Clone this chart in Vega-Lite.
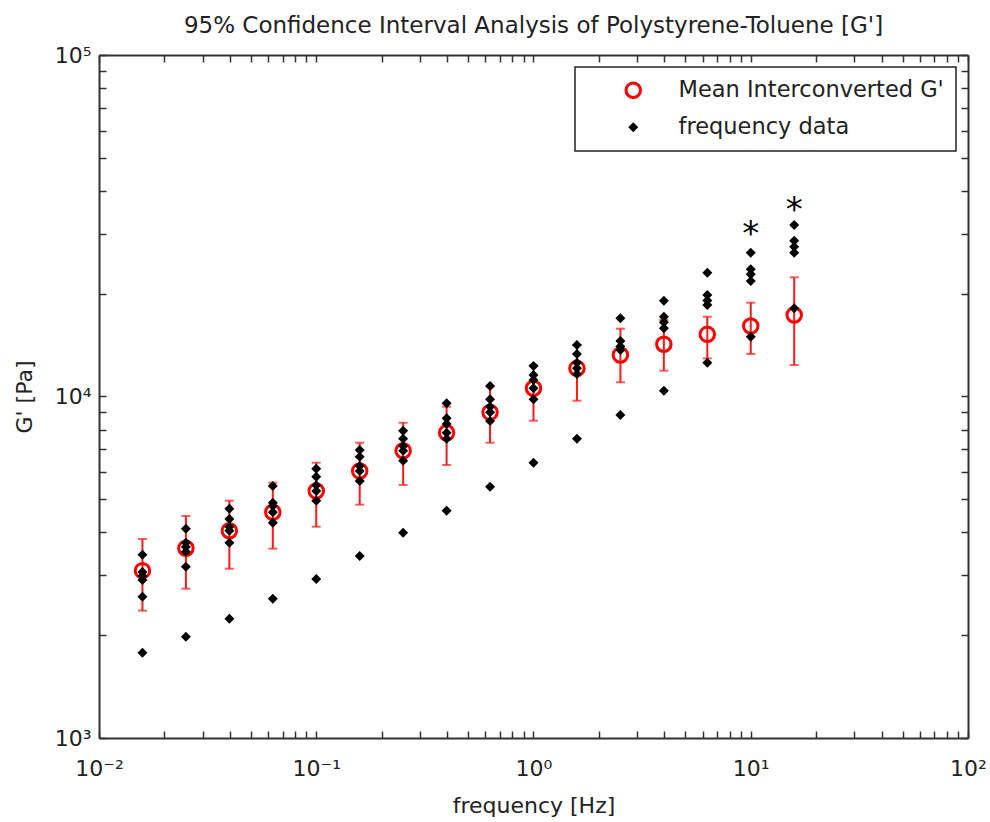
{
  "$schema": "https://vega.github.io/schema/vega-lite/v6.json",
  "width": 869,
  "height": 683,
  "autosize": {"type": "none"},
  "padding": {"left": 99, "top": 55, "right": 22, "bottom": 84},
  "background": "white",
  "title": {
    "text": "95% Confidence Interval Analysis of Polystyrene-Toluene [G']",
    "font": "DejaVu Sans",
    "fontSize": 23,
    "fontWeight": "normal",
    "color": "#222222",
    "baseline": "alphabetic",
    "offset": 22,
    "dy": 34,
    "anchor": "middle",
    "frame": "group"
  },
  "config": {
    "view": {"stroke": null},
    "font": "DejaVu Sans",
    "axis": {
      "domainColor": "#333333",
      "domainWidth": 2,
      "tickColor": "#333333",
      "tickWidth": 1.5,
      "tickSize": -7,
      "labelFont": "DejaVu Sans",
      "labelFontSize": 22,
      "labelColor": "#222222",
      "titleFont": "DejaVu Sans",
      "titleFontSize": 22,
      "titleFontWeight": "normal",
      "titleColor": "#222222",
      "grid": false,
      "labelOverlap": false,
      "labelFlush": false
    },
    "legend": {
      "orient": "top-right",
      "offset": 12,
      "strokeColor": "#222222",
      "strokeWidth": 1.5,
      "fillColor": "white",
      "padding": 12,
      "rowPadding": 12,
      "labelFont": "DejaVu Sans",
      "labelFontSize": 22.5,
      "labelColor": "#222222",
      "labelLimit": 500,
      "symbolOffset": 35,
      "labelOffset": 34,
      "symbolStrokeWidth": 3
    }
  },
  "datasets": {
    "means": [
      {"freq": 0.015849, "mean": 3090, "lo": 2360, "hi": 3826, "series": "Mean Interconverted G'"},
      {"freq": 0.025119, "mean": 3594, "lo": 2736, "hi": 4468, "series": "Mean Interconverted G'"},
      {"freq": 0.039811, "mean": 4046, "lo": 3131, "hi": 4954, "series": "Mean Interconverted G'"},
      {"freq": 0.063096, "mean": 4581, "lo": 3584, "hi": 5594, "series": "Mean Interconverted G'"},
      {"freq": 0.1, "mean": 5288, "lo": 4157, "hi": 6400, "series": "Mean Interconverted G'"},
      {"freq": 0.15849, "mean": 6050, "lo": 4822, "hi": 7322, "series": "Mean Interconverted G'"},
      {"freq": 0.25119, "mean": 6938, "lo": 5506, "hi": 8380, "series": "Mean Interconverted G'"},
      {"freq": 0.39811, "mean": 7834, "lo": 6300, "hi": 9335, "series": "Mean Interconverted G'"},
      {"freq": 0.63096, "mean": 8988, "lo": 7322, "hi": 10684, "series": "Mean Interconverted G'"},
      {"freq": 1, "mean": 10568, "lo": 8494, "hi": 12365, "series": "Mean Interconverted G'"},
      {"freq": 1.5849, "mean": 12091, "lo": 9721, "hi": 14152, "series": "Mean Interconverted G'"},
      {"freq": 2.5119, "mean": 13226, "lo": 11005, "hi": 15796, "series": "Mean Interconverted G'"},
      {"freq": 3.9811, "mean": 14218, "lo": 11898, "hi": 16749, "series": "Mean Interconverted G'"},
      {"freq": 6.3096, "mean": 15208, "lo": 12933, "hi": 17126, "series": "Mean Interconverted G'"},
      {"freq": 10, "mean": 16086, "lo": 13318, "hi": 18824, "series": "Mean Interconverted G'"},
      {"freq": 15.849, "mean": 17322, "lo": 12365, "hi": 22339, "series": "Mean Interconverted G'"}
    ],
    "points": [
      {"freq": 0.015849, "g": 3442, "series": "frequency data"},
      {"freq": 0.015849, "g": 3063, "series": "frequency data"},
      {"freq": 0.015849, "g": 2982, "series": "frequency data"},
      {"freq": 0.015849, "g": 2902, "series": "frequency data"},
      {"freq": 0.015849, "g": 2593, "series": "frequency data"},
      {"freq": 0.015849, "g": 1777, "series": "frequency data"},
      {"freq": 0.025119, "g": 4102, "series": "frequency data"},
      {"freq": 0.025119, "g": 3731, "series": "frequency data"},
      {"freq": 0.025119, "g": 3626, "series": "frequency data"},
      {"freq": 0.025119, "g": 3512, "series": "frequency data"},
      {"freq": 0.025119, "g": 3174, "series": "frequency data"},
      {"freq": 0.025119, "g": 1980, "series": "frequency data"},
      {"freq": 0.039811, "g": 4693, "series": "frequency data"},
      {"freq": 0.039811, "g": 4378, "series": "frequency data"},
      {"freq": 0.039811, "g": 4157, "series": "frequency data"},
      {"freq": 0.039811, "g": 4046, "series": "frequency data"},
      {"freq": 0.039811, "g": 3731, "series": "frequency data"},
      {"freq": 0.039811, "g": 2236, "series": "frequency data"},
      {"freq": 0.063096, "g": 5470, "series": "frequency data"},
      {"freq": 0.063096, "g": 4887, "series": "frequency data"},
      {"freq": 0.063096, "g": 4778, "series": "frequency data"},
      {"freq": 0.063096, "g": 4581, "series": "frequency data"},
      {"freq": 0.063096, "g": 4270, "series": "frequency data"},
      {"freq": 0.063096, "g": 2558, "series": "frequency data"},
      {"freq": 0.1, "g": 6146, "series": "frequency data"},
      {"freq": 0.1, "g": 5824, "series": "frequency data"},
      {"freq": 0.1, "g": 5495, "series": "frequency data"},
      {"freq": 0.1, "g": 5288, "series": "frequency data"},
      {"freq": 0.1, "g": 4954, "series": "frequency data"},
      {"freq": 0.1, "g": 2921, "series": "frequency data"},
      {"freq": 0.15849, "g": 6970, "series": "frequency data"},
      {"freq": 0.15849, "g": 6662, "series": "frequency data"},
      {"freq": 0.15849, "g": 6257, "series": "frequency data"},
      {"freq": 0.15849, "g": 6050, "series": "frequency data"},
      {"freq": 0.15849, "g": 5656, "series": "frequency data"},
      {"freq": 0.15849, "g": 3412, "series": "frequency data"},
      {"freq": 0.25119, "g": 7941, "series": "frequency data"},
      {"freq": 0.25119, "g": 7522, "series": "frequency data"},
      {"freq": 0.25119, "g": 7164, "series": "frequency data"},
      {"freq": 0.25119, "g": 6938, "series": "frequency data"},
      {"freq": 0.25119, "g": 6486, "series": "frequency data"},
      {"freq": 0.25119, "g": 3992, "series": "frequency data"},
      {"freq": 0.39811, "g": 9553, "series": "frequency data"},
      {"freq": 0.39811, "g": 8636, "series": "frequency data"},
      {"freq": 0.39811, "g": 8308, "series": "frequency data"},
      {"freq": 0.39811, "g": 7834, "series": "frequency data"},
      {"freq": 0.39811, "g": 7522, "series": "frequency data"},
      {"freq": 0.39811, "g": 4631, "series": "frequency data"},
      {"freq": 0.63096, "g": 10733, "series": "frequency data"},
      {"freq": 0.63096, "g": 9813, "series": "frequency data"},
      {"freq": 0.63096, "g": 9335, "series": "frequency data"},
      {"freq": 0.63096, "g": 8988, "series": "frequency data"},
      {"freq": 0.63096, "g": 8478, "series": "frequency data"},
      {"freq": 0.63096, "g": 5443, "series": "frequency data"},
      {"freq": 1, "g": 12283, "series": "frequency data"},
      {"freq": 1, "g": 11561, "series": "frequency data"},
      {"freq": 1, "g": 11176, "series": "frequency data"},
      {"freq": 1, "g": 10568, "series": "frequency data"},
      {"freq": 1, "g": 9813, "series": "frequency data"},
      {"freq": 1, "g": 6400, "series": "frequency data"},
      {"freq": 1.5849, "g": 14152, "series": "frequency data"},
      {"freq": 1.5849, "g": 13318, "series": "frequency data"},
      {"freq": 1.5849, "g": 12560, "series": "frequency data"},
      {"freq": 1.5849, "g": 12091, "series": "frequency data"},
      {"freq": 1.5849, "g": 11640, "series": "frequency data"},
      {"freq": 1.5849, "g": 7522, "series": "frequency data"},
      {"freq": 2.5119, "g": 16943, "series": "frequency data"},
      {"freq": 2.5119, "g": 14539, "series": "frequency data"},
      {"freq": 2.5119, "g": 14000, "series": "frequency data"},
      {"freq": 2.5119, "g": 13687, "series": "frequency data"},
      {"freq": 2.5119, "g": 8826, "series": "frequency data"},
      {"freq": 3.9811, "g": 19083, "series": "frequency data"},
      {"freq": 3.9811, "g": 17126, "series": "frequency data"},
      {"freq": 3.9811, "g": 16500, "series": "frequency data"},
      {"freq": 3.9811, "g": 15840, "series": "frequency data"},
      {"freq": 3.9811, "g": 10399, "series": "frequency data"},
      {"freq": 6.3096, "g": 23036, "series": "frequency data"},
      {"freq": 6.3096, "g": 19830, "series": "frequency data"},
      {"freq": 6.3096, "g": 19100, "series": "frequency data"},
      {"freq": 6.3096, "g": 18531, "series": "frequency data"},
      {"freq": 6.3096, "g": 12560, "series": "frequency data"},
      {"freq": 10, "g": 26375, "series": "frequency data"},
      {"freq": 10, "g": 23573, "series": "frequency data"},
      {"freq": 10, "g": 22800, "series": "frequency data"},
      {"freq": 10, "g": 21786, "series": "frequency data"},
      {"freq": 10, "g": 14966, "series": "frequency data"},
      {"freq": 15.849, "g": 31786, "series": "frequency data"},
      {"freq": 15.849, "g": 28588, "series": "frequency data"},
      {"freq": 15.849, "g": 27456, "series": "frequency data"},
      {"freq": 15.849, "g": 26375, "series": "frequency data"},
      {"freq": 15.849, "g": 18125, "series": "frequency data"}
    ],
    "stars": [
      {"freq": 10, "g": 31427, "label": "*"},
      {"freq": 15.849, "g": 36940, "label": "*"}
    ]
  },
  "resolve": {"axis": {"x": "independent", "y": "independent"}},
  "layer": [
    {
      "data": {"name": "means"},
      "mark": {"type": "rule", "color": "#ff1a1a", "strokeWidth": 2},
      "encoding": {
        "x": {
          "field": "freq", "type": "quantitative",
          "scale": {"type": "log", "domain": [0.01, 100], "nice": false},
          "axis": {
            "orient": "bottom",
            "values": [0.01,0.02,0.03,0.04,0.05,0.06,0.07,0.08,0.09,0.1,0.2,0.3,0.4,0.5,0.6,0.7,0.8,0.9,1,2,3,4,5,6,7,8,9,10,20,30,40,50,60,70,80,90,100],
            "labelExpr": "datum.value == 0.01 ? '10⁻²' : datum.value == 0.1 ? '10⁻¹' : datum.value == 1 ? '10⁰' : datum.value == 10 ? '10¹' : datum.value == 100 ? '10²' : ''",
            "labelPadding": 27,
            "title": "frequency [Hz]",
            "titleX": 434.5,
            "titleY": 74,
            "titleBaseline": "alphabetic",
            "titleAlign": "center"
          }
        },
        "y": {
          "field": "lo", "type": "quantitative",
          "scale": {"type": "log", "domain": [1000, 100000], "nice": false},
          "axis": {
            "orient": "left",
            "values": [1000,2000,3000,4000,5000,6000,7000,8000,9000,10000,20000,30000,40000,50000,60000,70000,80000,90000,100000],
            "labelExpr": "datum.value == 1000 ? '10³' : datum.value == 10000 ? '10⁴' : datum.value == 100000 ? '10⁵' : ''",
            "labelPadding": 15,
            "title": "G' [Pa]",
            "titleX": -68,
            "titleY": 341.5,
            "titleAngle": 270,
            "titleBaseline": "alphabetic",
            "titleAlign": "center"
          }
        },
        "y2": {"field": "hi"}
      }
    },
    {
      "data": {"name": "means"},
      "mark": {"type": "tick", "orient": "horizontal", "color": "#ff1a1a", "size": 9, "thickness": 2},
      "encoding": {
        "x": {"field": "freq", "type": "quantitative", "scale": {"type": "log", "domain": [0.01, 100], "nice": false}, "axis": null},
        "y": {"field": "lo", "type": "quantitative", "scale": {"type": "log", "domain": [1000, 100000], "nice": false}, "axis": null}
      }
    },
    {
      "data": {"name": "means"},
      "mark": {"type": "tick", "orient": "horizontal", "color": "#ff1a1a", "size": 9, "thickness": 2},
      "encoding": {
        "x": {"field": "freq", "type": "quantitative", "scale": {"type": "log", "domain": [0.01, 100], "nice": false}, "axis": null},
        "y": {"field": "hi", "type": "quantitative", "scale": {"type": "log", "domain": [1000, 100000], "nice": false}, "axis": null}
      }
    },
    {
      "data": {"name": "means"},
      "mark": {"type": "point", "strokeWidth": 3, "opacity": 1},
      "encoding": {
        "x": {"field": "freq", "type": "quantitative", "scale": {"type": "log", "domain": [0.01, 100], "nice": false}, "axis": null},
        "y": {"field": "mean", "type": "quantitative", "scale": {"type": "log", "domain": [1000, 100000], "nice": false}, "axis": null},
        "shape": {"field": "series", "type": "nominal", "scale": {"domain": ["Mean Interconverted G'", "frequency data"], "range": ["circle", "diamond"]}, "legend": {"title": null}},
        "size": {"field": "series", "type": "nominal", "scale": {"domain": ["Mean Interconverted G'", "frequency data"], "range": [210, 100]}, "legend": {"title": null}},
        "stroke": {"field": "series", "type": "nominal", "scale": {"domain": ["Mean Interconverted G'", "frequency data"], "range": ["#ff0000", "transparent"]}, "legend": {"title": null}},
        "fill": {"field": "series", "type": "nominal", "scale": {"domain": ["Mean Interconverted G'", "frequency data"], "range": ["transparent", "#000000"]}, "legend": {"title": null}}
      }
    },
    {
      "data": {"name": "points"},
      "mark": {"type": "point", "strokeWidth": 3, "opacity": 1},
      "encoding": {
        "x": {"field": "freq", "type": "quantitative", "scale": {"type": "log", "domain": [0.01, 100], "nice": false}, "axis": null},
        "y": {"field": "g", "type": "quantitative", "scale": {"type": "log", "domain": [1000, 100000], "nice": false}, "axis": null},
        "shape": {"field": "series", "type": "nominal", "scale": {"domain": ["Mean Interconverted G'", "frequency data"], "range": ["circle", "diamond"]}, "legend": {"title": null}},
        "size": {"field": "series", "type": "nominal", "scale": {"domain": ["Mean Interconverted G'", "frequency data"], "range": [210, 100]}, "legend": {"title": null}},
        "stroke": {"field": "series", "type": "nominal", "scale": {"domain": ["Mean Interconverted G'", "frequency data"], "range": ["#ff0000", "transparent"]}, "legend": {"title": null}},
        "fill": {"field": "series", "type": "nominal", "scale": {"domain": ["Mean Interconverted G'", "frequency data"], "range": ["transparent", "#000000"]}, "legend": {"title": null}}
      }
    },
    {
      "data": {"name": "stars"},
      "mark": {"type": "text", "font": "DejaVu Sans", "fontSize": 34, "color": "#000000", "align": "center", "baseline": "alphabetic", "dy": 18},
      "encoding": {
        "x": {
          "field": "freq", "type": "quantitative",
          "scale": {"type": "log", "domain": [0.01, 100], "nice": false},
          "axis": {
            "orient": "top",
            "values": [0.01,0.02,0.03,0.04,0.05,0.06,0.07,0.08,0.09,0.1,0.2,0.3,0.4,0.5,0.6,0.7,0.8,0.9,1,2,3,4,5,6,7,8,9,10,20,30,40,50,60,70,80,90,100],
            "labels": false,
            "title": null
          }
        },
        "y": {
          "field": "g", "type": "quantitative",
          "scale": {"type": "log", "domain": [1000, 100000], "nice": false},
          "axis": {
            "orient": "right",
            "values": [1000,2000,3000,4000,5000,6000,7000,8000,9000,10000,20000,30000,40000,50000,60000,70000,80000,90000,100000],
            "labels": false,
            "title": null
          }
        },
        "text": {"field": "label"}
      }
    }
  ]
}
